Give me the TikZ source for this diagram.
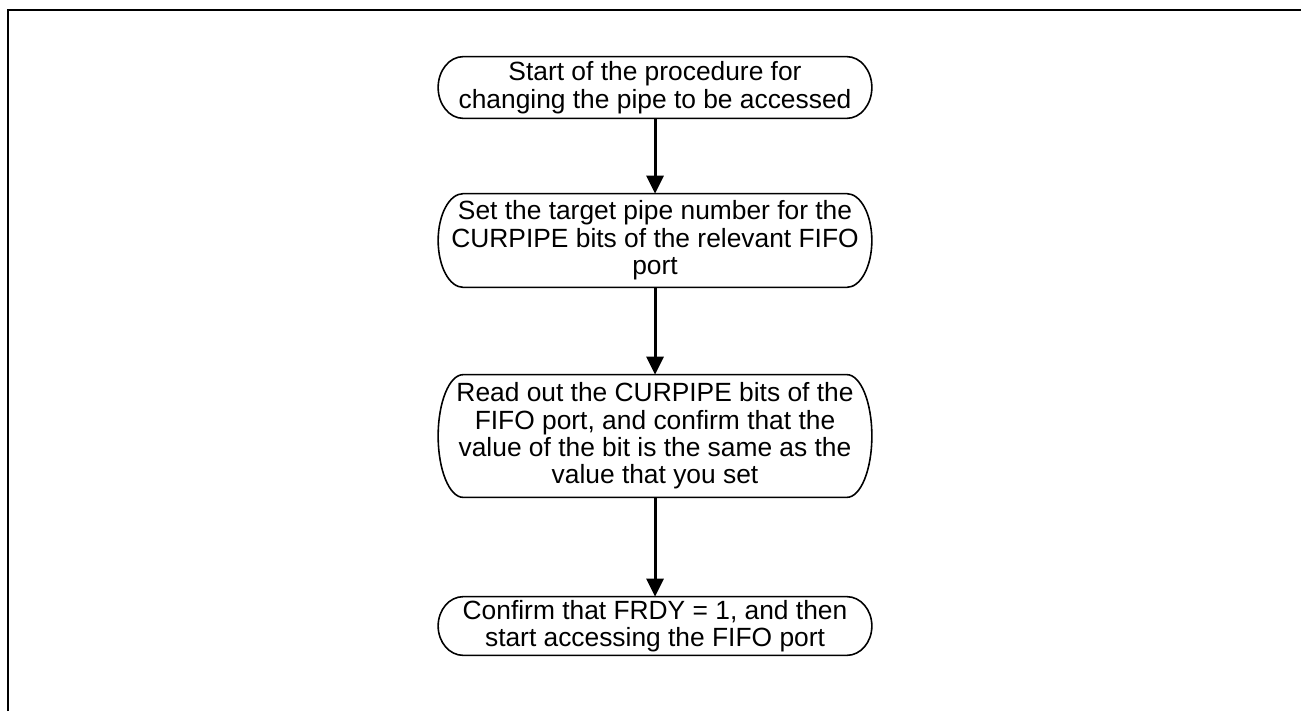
\documentclass[tikz,border=0pt]{standalone}
\usepackage{fontspec}
\setmainfont{Liberation Sans}
\usetikzlibrary{arrows.meta,calc}
\tikzset{
  flowbox/.style={align=center, minimum width=8.66cm, inner sep=0pt,
    font=\fontsize{15}{15.6}\selectfont},
  flowarrow/.style={->, line width=1.7pt}
}
\begin{document}
\begin{tikzpicture}[>={Triangle[length=0.36cm,width=0.34cm]}]
\useasboundingbox (0,0) rectangle (26.02,14.22);
% frame
\draw[line width=1.7pt] (0.16,0) -- (0.16,14.02) -- (26.02,14.02);
\node[flowbox, minimum height=1.22cm] (start) at (13.1,12.47) {Start of the procedure for\\changing the pipe to be accessed};
\node[flowbox, minimum height=1.86cm] (setpipe) at (13.1,9.41) {Set the target pipe number for the\\CURPIPE bits of the relevant FIFO\\port};
\node[flowbox, minimum height=2.44cm] (readpipe) at (13.1,5.5) {Read out the CURPIPE bits of the\\FIFO port, and confirm that the\\value of the bit is the same as the\\value that you set};
\node[flowbox, minimum height=1.16cm] (confirm) at (13.1,1.7) {Confirm that FRDY = 1, and then\\start accessing the FIFO port};
% boxes with curved sides
\foreach \nd in {start,setpipe,readpipe,confirm}
  \draw[line width=0.9pt] let \p1=(\nd.north west), \p2=(\nd.south east), \n1={(\y1-\y2)/2} in
    ([xshift=0.5cm]\nd.north west) -- ([xshift=-0.5cm]\nd.north east)
    arc[start angle=90, end angle=-90, x radius=0.5cm, y radius=\n1]
    -- ([xshift=0.5cm]\nd.south west)
    arc[start angle=270, end angle=90, x radius=0.5cm, y radius=\n1] -- cycle;
\draw[flowarrow] (start) -- (setpipe);
\draw[flowarrow] (setpipe) -- (readpipe);
\draw[flowarrow] (readpipe) -- (confirm);
\end{tikzpicture}
\end{document}
